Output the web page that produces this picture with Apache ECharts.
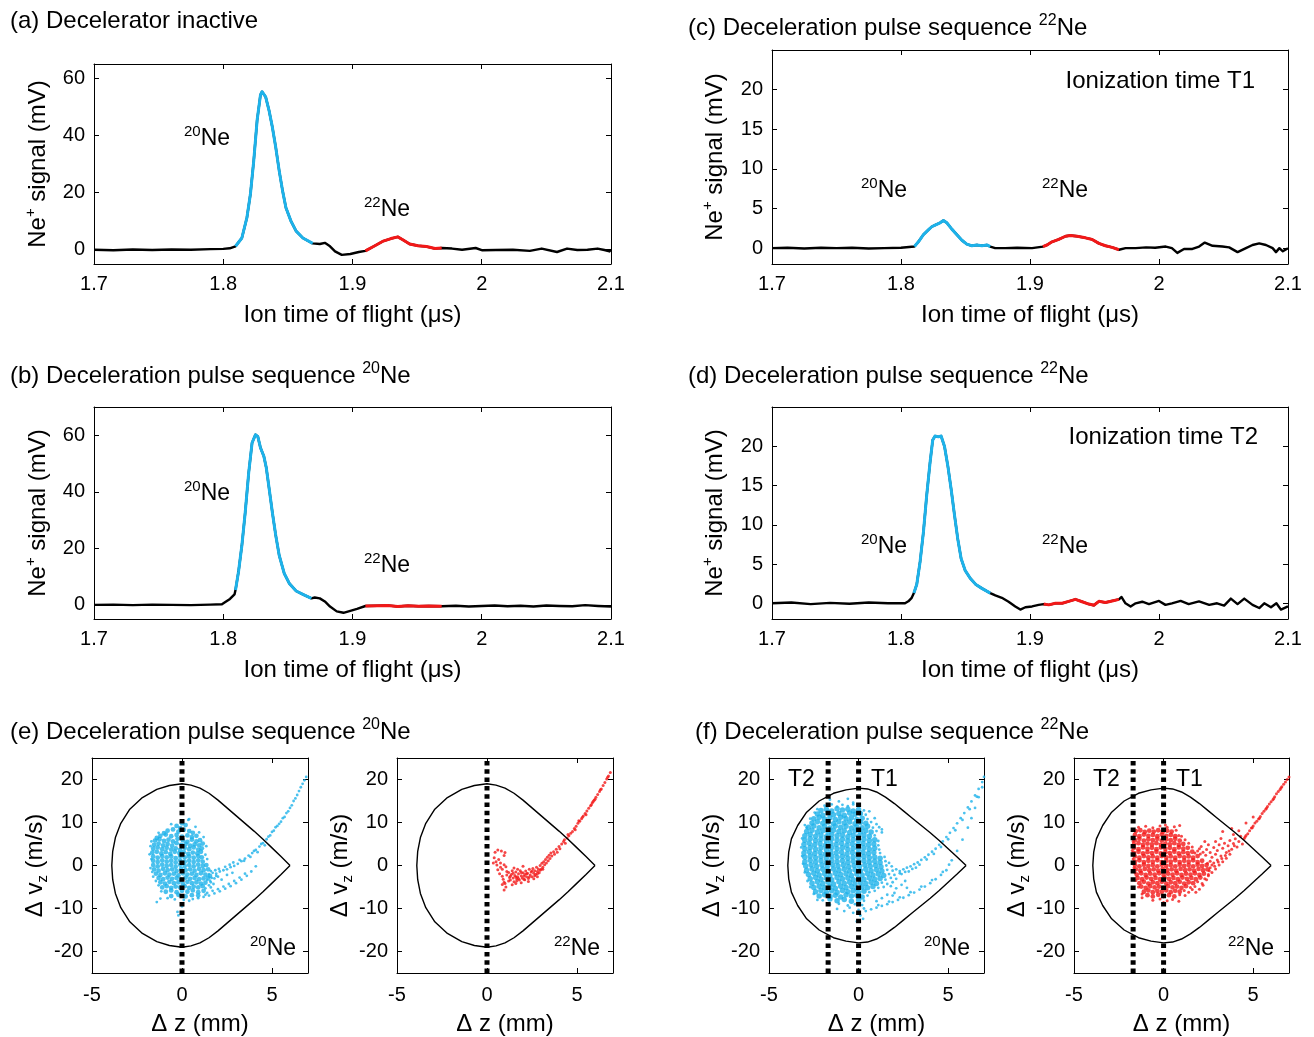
<!DOCTYPE html>
<html>
<head>
<meta charset="utf-8">
<script src="https://cdn.jsdelivr.net/npm/echarts@6/dist/echarts.min.js"></script>
<style>
  html, body { margin: 0; padding: 0; background: #fff; }
  #chart { width: 1314px; height: 1037px; }
</style>
</head>
<body>
<div id="chart"></div>
<script>
// ---------- colours & fonts ----------
const FONT = '"Liberation Sans", Arial, Helvetica, sans-serif';
const CYAN = '#1db2ea';
const RED = '#f21818';

// ---------- time-of-flight traces: [time (μs), Ne+ signal (mV)] ----------
const traceA = [[1.700,0.0],[1.715,-0.2],[1.730,0.1],[1.745,-0.1],[1.760,0.1],[1.775,0.0],[1.790,0.2],[1.800,0.3],[1.805,0.5],[1.8095,1.2],[1.8144,4.1],[1.8183,11.2],[1.8210,19.4],[1.8236,31.2],[1.8262,45.3],[1.8288,54.2],[1.8300,55.3],[1.8314,54.9],[1.8328,53.5],[1.8354,48.8],[1.8380,42.9],[1.8406,35.9],[1.8433,27.6],[1.8459,20.6],[1.8485,14.7],[1.8524,10.0],[1.8564,6.5],[1.8616,4.1],[1.8692,2.2],[1.8747,2.0],[1.8786,2.4],[1.8826,1.2],[1.8865,-0.6],[1.8917,-1.8],[1.8983,-1.5],[1.9049,-0.8],[1.9100,-0.4],[1.9166,1.2],[1.9232,2.9],[1.9298,3.9],[1.9350,4.5],[1.9389,3.5],[1.9442,2.0],[1.9507,1.4],[1.9573,1.1],[1.9638,0.4],[1.9690,0.6],[1.9770,0.4],[1.9848,0.0],[1.9953,0.6],[2.0005,-0.2],[2.0110,-0.1],[2.0241,0.0],[2.0372,-0.4],[2.0464,0.4],[2.0582,-0.8],[2.0660,0.4],[2.0739,-0.1],[2.0818,0.0],[2.0896,0.4],[2.0949,-0.1],[2.0988,-0.6],[2.1000,0.0]];

const traceB = [[1.700,0.0],[1.715,0.1],[1.730,-0.1],[1.745,0.1],[1.760,0.0],[1.775,-0.1],[1.790,0.1],[1.799,0.2],[1.8013,0.9],[1.8052,2.1],[1.8087,3.7],[1.8095,5.3],[1.8118,11.7],[1.8144,21.0],[1.8170,32.7],[1.8197,46.8],[1.8223,57.3],[1.8249,60.2],[1.8267,59.6],[1.8288,55.6],[1.8314,52.6],[1.8333,48.5],[1.8354,41.5],[1.8380,32.7],[1.8406,24.6],[1.8433,17.5],[1.8472,11.1],[1.8511,7.6],[1.8564,4.9],[1.8616,3.7],[1.8682,2.3],[1.8708,2.6],[1.8747,2.3],[1.8786,1.2],[1.8826,-0.6],[1.8878,-2.3],[1.8930,-2.8],[1.8983,-2.1],[1.9035,-1.4],[1.9100,-0.4],[1.9193,-0.3],[1.9270,-0.2],[1.9350,-0.6],[1.9430,-0.3],[1.9510,-0.5],[1.9590,-0.4],[1.9690,-0.5],[1.9800,-0.3],[1.9900,-0.6],[2.0000,-0.4],[2.0100,-0.2],[2.0200,-0.5],[2.0300,-0.3],[2.0400,-0.6],[2.0500,-0.2],[2.0600,-0.4],[2.0700,-0.5],[2.0800,-0.1],[2.0900,-0.4],[2.1000,-0.6]];

const traceC = [[1.700,0.00],[1.712,0.05],[1.725,-0.05],[1.738,0.05],[1.750,0.00],[1.762,0.05],[1.775,-0.05],[1.787,0.00],[1.800,0.05],[1.8104,0.2],[1.8135,0.8],[1.8174,1.7],[1.8212,2.3],[1.8238,2.7],[1.8264,2.9],[1.8303,3.2],[1.8329,3.5],[1.8355,3.2],[1.8394,2.4],[1.8433,1.7],[1.8472,1.0],[1.8510,0.5],[1.8549,0.3],[1.8588,0.4],[1.8627,0.3],[1.8666,0.4],[1.8692,0.2],[1.8730,0.0],[1.8808,0.0],[1.8900,0.05],[1.9016,0.0],[1.9100,0.2],[1.9132,0.4],[1.9171,0.8],[1.9223,1.1],[1.9275,1.5],[1.9313,1.6],[1.9365,1.5],[1.9430,1.3],[1.9482,1.1],[1.9534,0.6],[1.9585,0.3],[1.9637,0.1],[1.9689,-0.2],[1.9741,0.0],[1.9819,0.0],[1.9900,0.1],[1.9970,0.05],[2.0052,0.2],[2.0100,0.0],[2.0142,-0.6],[2.0194,-0.1],[2.0259,-0.1],[2.0311,0.2],[2.0355,0.7],[2.0415,0.3],[2.0492,0.2],[2.0544,0.1],[2.0609,-0.5],[2.0674,0.0],[2.0725,0.4],[2.0777,0.6],[2.0829,0.4],[2.0881,0.0],[2.0907,-0.5],[2.0933,0.0],[2.0960,-0.4],[2.1000,0.0]];

const traceD = [[1.700,0.0],[1.715,0.1],[1.730,-0.1],[1.745,0.05],[1.760,-0.05],[1.775,0.1],[1.790,0.0],[1.8031,0.0],[1.8057,0.25],[1.8083,0.7],[1.8100,1.3],[1.8122,2.4],[1.8148,5.3],[1.8174,9.1],[1.8199,13.7],[1.8225,17.9],[1.8246,20.8],[1.8264,21.3],[1.8290,21.2],[1.8311,21.3],[1.8337,20.0],[1.8363,17.5],[1.8389,14.5],[1.8415,11.2],[1.8440,8.2],[1.8466,5.7],[1.8497,4.2],[1.8536,3.2],[1.8580,2.4],[1.8627,1.9],[1.8692,1.3],[1.8731,1.0],[1.8782,0.7],[1.8834,0.2],[1.8886,-0.4],[1.8925,-0.8],[1.8964,-0.5],[1.9016,-0.4],[1.9067,-0.2],[1.9106,-0.1],[1.9145,-0.2],[1.9197,0.0],[1.9249,0.0],[1.9300,0.25],[1.9352,0.5],[1.9404,0.2],[1.9456,-0.1],[1.9495,-0.25],[1.9534,0.25],[1.9585,0.1],[1.9637,0.3],[1.9689,0.5],[1.9710,0.8],[1.9740,0.0],[1.9780,-0.4],[1.9819,0.0],[1.9870,0.2],[1.9922,-0.1],[2.0000,0.3],[2.0050,-0.2],[2.0100,0.0],[2.0168,0.3],[2.0230,-0.1],[2.0310,0.25],[2.0389,-0.2],[2.0450,0.0],[2.0505,-0.3],[2.0557,0.6],[2.0609,-0.1],[2.0661,0.6],[2.0725,-0.2],[2.0777,-0.6],[2.0816,0.0],[2.0868,-0.5],[2.0910,0.0],[2.0945,-0.8],[2.1000,-0.4]];

// arrival-time windows of the two isotopes (μs)
const WINDOW_20NE = [1.8095, 1.8695];
const WINDOW_22NE = [1.9100, 1.9690];

// ---------- tick values ----------
const tofTicks = [1.7, 1.8, 1.9, 2.0, 2.1];
const signalTicksAB = [0, 20, 40, 60];
const signalTicksCD = [0, 5, 10, 15, 20];
const zTicks = [-5, 0, 5];
const vzTicks = [-20, -10, 0, 10, 20];

// ---------- separatrices: [Δz (mm), Δvz (m/s)] ----------
const separatrixE = [[6,0],[5.5,2.1],[5,4.1],[4.5,6.1],[4,8.0],[3.5,9.8],[3,11.6],[2.5,13.4],[2,15.2],[1.5,16.8],[1,18.0],[0.5,18.7],[0,19.0],[-0.7,18.6],[-1.4,17.7],[-2.2,15.8],[-2.9,13.1],[-3.4,9.8],[-3.7,6.5],[-3.85,3.3],[-3.9,0],[-3.85,-3.3],[-3.7,-6.5],[-3.4,-9.8],[-2.9,-13.1],[-2.2,-15.8],[-1.4,-17.7],[-0.7,-18.6],[0,-19.0],[0.5,-18.7],[1,-18.0],[1.5,-16.8],[2,-15.2],[2.5,-13.4],[3,-11.6],[3.5,-9.8],[4,-8.0],[4.5,-6.1],[5,-4.1],[5.5,-2.1],[6,0]];
const separatrixF = [[6,0],[5.5,2.0],[5,3.9],[4.5,5.8],[4,7.6],[3.5,9.3],[3,11.0],[2.5,12.7],[2,14.4],[1.5,15.9],[1,17.1],[0.5,17.8],[0,18.0],[-0.7,17.6],[-1.4,16.8],[-2.2,15.0],[-2.9,12.4],[-3.4,9.3],[-3.75,6.2],[-3.9,3.1],[-3.95,0],[-3.9,-3.1],[-3.75,-6.2],[-3.4,-9.3],[-2.9,-12.4],[-2.2,-15.0],[-1.4,-16.8],[-0.7,-17.6],[0,-18.0],[0.5,-17.8],[1,-17.1],[1.5,-15.9],[2,-14.4],[2.5,-12.7],[3,-11.0],[3.5,-9.3],[4,-7.6],[4.5,-5.8],[5,-3.9],[5.5,-2.0],[6,0]];

// ionization positions (Δz, mm)
const T1_Z = 0;
const T2_Z = -1.7;

// ---------- phase-space clouds, flat lists of Δz, Δvz ----------
// dense bunch cores
const coreE20 = [
-0.3,9.2,0.0,9.8,0.2,9.4,-0.1,8.7,
-0.8,8.1,-0.5,8.4,-0.2,7.9,0.1,8.3,0.4,8.0,0.6,7.6,-1.0,7.5,
-1.2,6.9,-0.9,7.2,-0.6,6.8,-0.3,7.1,0.0,6.7,0.3,7.0,0.55,6.6,0.8,6.9,-1.4,6.4,
-1.5,5.8,-1.25,6.1,-1.0,5.7,-0.75,6.0,-0.5,5.6,-0.25,6.2,0.05,5.9,0.3,5.5,0.55,6.0,0.8,5.6,1.0,5.9,
-1.55,4.8,-1.3,5.1,-1.05,4.7,-0.8,5.0,-0.55,4.6,-0.3,5.2,-0.05,4.8,0.2,5.0,0.45,4.6,0.7,4.9,0.95,4.7,1.15,5.1,
-1.6,3.9,-1.35,4.2,-1.1,3.8,-0.85,4.1,-0.6,3.7,-0.35,4.0,-0.1,3.6,0.15,4.1,0.4,3.8,0.65,4.2,0.9,3.7,1.1,4.0,
-1.65,3.0,-1.4,3.2,-1.15,2.8,-0.9,3.1,-0.65,2.7,-0.4,3.2,-0.15,2.9,0.1,3.1,0.35,2.7,0.6,3.0,0.85,2.8,1.05,3.2,
-1.6,2.1,-1.35,1.8,-1.1,2.2,-0.85,1.9,-0.6,2.1,-0.35,1.7,-0.1,2.2,0.15,1.9,0.4,2.1,0.65,1.8,0.9,2.2,1.1,1.9,
-1.6,1.1,-1.35,0.8,-1.1,1.2,-0.85,0.9,-0.6,1.1,-0.35,0.7,-0.1,1.2,0.15,0.9,0.4,1.1,0.65,0.8,0.9,1.2,1.15,0.9,
-1.6,0.1,-1.35,-0.2,-1.1,0.2,-0.85,-0.1,-0.6,0.1,-0.35,-0.3,-0.1,0.2,0.15,-0.1,0.4,0.1,0.65,-0.2,0.9,0.2,1.15,-0.1,1.35,0.1,
-1.55,-0.9,-1.3,-1.2,-1.05,-0.8,-0.8,-1.1,-0.55,-0.9,-0.3,-1.3,-0.05,-0.8,0.2,-1.1,0.45,-0.9,0.7,-1.2,0.95,-0.8,1.2,-1.1,1.45,-0.9,
-1.45,-1.9,-1.2,-2.2,-0.95,-1.8,-0.7,-2.1,-0.45,-1.9,-0.2,-2.3,0.05,-1.8,0.3,-2.1,0.55,-1.9,0.8,-2.2,1.05,-1.8,1.3,-2.1,1.55,-2.4,
-1.3,-2.9,-1.05,-3.2,-0.8,-2.8,-0.55,-3.1,-0.3,-2.9,-0.05,-3.3,0.2,-2.8,0.45,-3.1,0.7,-2.9,0.95,-3.2,1.2,-3.0,1.45,-2.8,
-1.2,-3.9,-0.95,-4.2,-0.7,-3.8,-0.45,-4.1,-0.2,-3.9,0.05,-4.3,0.3,-3.8,0.55,-4.1,0.8,-3.9,1.05,-4.2,1.3,-4.0,
-1.1,-5.1,-0.85,-4.8,-0.6,-5.2,-0.35,-4.9,-0.1,-5.1,0.15,-4.8,0.4,-5.2,0.65,-4.9,0.9,-5.1,1.15,-4.8,
-0.9,-6.1,-0.6,-5.8,-0.3,-6.2,0.0,-5.9,0.3,-6.1,0.6,-5.8,0.9,-6.2,1.2,-5.9,
-0.6,-7.1,-0.2,-6.8,0.2,-7.2,0.55,-6.9,0.9,-7.0
];
// sparse halo and tails
const haloE20 = [
0.35,10.6,-1.7,5.6,1.3,-6.8,
-1.4,-8.5,-1.2,-7.7,-0.2,-11.6,-0.25,-10.8,0.0,-9.5,0.4,-8.2,0.4,10.8,-0.6,9.6,-1.3,7.6,-1.75,4.5,-1.7,1.5,-1.65,-1.5,
-1.8,2.6,-1.75,-0.6,-1.6,-2.6,-1.45,-3.6,-1.3,-4.6,-1.15,-6.0,-0.8,-7.6,-0.4,-7.9,0.1,-8.0,0.75,9.0,0.95,7.7,1.2,6.6,1.35,4.5,1.3,2.5,1.4,1.5,
1.5,-2.0,1.7,-1.7,1.9,-1.9,2.1,-1.4,2.3,-1.1,2.5,-0.9,2.7,-0.4,2.9,-0.1,3.1,0.4,3.3,1.0,3.5,1.6,3.7,2.3,3.9,2.9,4.1,3.6,4.3,4.4,4.5,5.2,4.7,6.1,4.9,7.0,5.1,8.1,5.3,9.2,5.5,10.2,5.7,11.3,5.9,12.6,6.1,14.0,6.3,15.6,6.5,17.3,6.7,19.0,6.9,20.6,
1.6,-1.3,1.85,-1.1,2.05,-0.8,2.4,-0.3,2.65,0.2,2.85,0.7,3.2,1.3,3.45,1.1,3.8,2.0,4.2,3.1,4.6,4.7,5.0,7.8,5.4,9.7,5.8,12.2,6.2,15.0,6.6,18.2,4.0,3.4,4.4,5.0,4.8,6.7,5.2,8.9,5.6,11.0,6.0,13.4,6.4,16.4,6.8,19.8,
0.6,-7.8,0.9,-7.6,1.2,-7.3,1.5,-7.0,1.8,-6.5,2.1,-6.0,2.4,-5.4,2.7,-4.8,3.0,-4.1,3.3,-3.3,3.6,-2.4,3.85,-1.4,4.1,-0.2,1.4,-6.4,1.7,-5.9,2.0,-5.5,2.3,-4.9,2.6,-4.3,2.9,-3.6,3.2,-2.8,3.5,-1.9,
1.4,-3.4,1.6,-3.9,1.8,-3.0,2.0,-2.6,2.2,-3.3,1.5,-4.6,1.75,-4.3,2.5,-2.2,2.8,-1.7,1.3,-5.3,1.6,-5.1,1.65,-2.9,1.9,-2.4,1.55,-3.5
];

const cloudE22 = [
0.45,3.1,0.6,3.6,0.8,3.4,1.0,3.0,0.95,2.3,0.4,1.8,0.5,0.9,0.35,0.6,0.65,1.4,0.55,0.1,0.75,-0.4,0.6,-1.0,0.85,-0.9,0.7,-1.9,0.85,-2.5,0.9,-3.2,0.95,-3.9,0.85,-4.4,0.95,-5.7,1.05,-5.0,1.0,-4.2,0.75,0.6,0.95,0.2,1.05,-0.3,1.1,-1.4,
1.1,-2.2,1.2,-1.6,1.25,-2.8,1.3,-3.4,1.35,-2.1,1.4,-1.2,1.45,-2.9,1.5,-3.8,1.55,-2.3,1.6,-1.5,1.65,-3.1,1.7,-2.6,1.75,-1.9,1.8,-3.4,1.85,-1.2,1.9,-2.4,1.95,-2.9,2.0,-1.7,2.05,-3.2,2.1,-2.1,2.15,-1.3,2.2,-2.6,2.25,-1.8,2.3,-3.0,2.35,-0.9,2.4,-2.2,2.45,-1.5,2.5,-2.6,2.55,-0.7,2.6,-1.8,2.65,-1.2,2.7,-2.1,2.75,-0.4,2.8,-1.4,2.85,-0.8,2.9,-1.7,2.95,0.0,3.0,-0.9,3.05,0.5,3.1,-0.4,3.15,0.9,3.2,0.2,3.25,1.4,3.3,0.6,3.35,1.9,3.4,1.1,3.45,2.4,3.5,1.6,3.55,2.9,3.6,2.2,3.7,3.2,3.75,2.6,3.85,3.8,3.9,3.1,4.0,4.4,4.05,3.9,1.5,-0.6,1.7,-0.9,2.0,-0.2,1.9,-4.0,2.3,-3.7,1.4,-4.5,1.6,-4.2,2.6,-3.1,2.8,-2.6,
1.3,-2.5,1.45,-1.8,1.6,-2.7,1.75,-3.0,1.9,-1.6,2.05,-2.5,2.2,-1.9,2.35,-2.7,2.5,-1.3,2.65,-2.4,2.8,-1.9,2.95,-1.1,3.1,-0.9,1.2,-3.6,1.65,-3.6,2.1,-3.3,
4.15,5.0,4.25,5.6,4.35,5.2,4.45,6.4,4.55,6.9,4.65,7.5,4.75,7.9,4.85,8.6,4.95,9.1,5.05,9.8,5.15,10.3,5.25,10.9,5.35,11.5,5.45,12.1,5.55,12.7,5.65,13.3,5.75,13.9,5.85,14.6,5.95,15.2,6.05,15.9,6.15,16.5,6.25,17.2,6.35,17.8,6.45,18.6,6.55,19.3,6.65,20.1,6.75,20.8,6.85,21.6,4.5,7.2,4.9,8.3,5.1,10.4,5.5,11.8,5.9,14.9,6.3,17.6,6.7,20.5,4.3,6.0,5.3,11.2,5.8,14.1,6.0,15.4
];

const coreF20 = [
-2.1,12.8,-1.8,13.1,-1.5,12.7,-1.2,13.2,-0.9,12.9,-0.6,13.1,-0.3,12.7,0.0,13.0,
-2.3,12.0,-2.0,11.7,-1.7,12.2,-1.4,11.8,-1.1,12.1,-0.8,11.7,-0.5,12.2,-0.2,11.9,0.1,12.1,
-2.5,10.9,-2.2,11.2,-1.9,10.8,-1.6,11.1,-1.3,10.7,-1.0,11.2,-0.7,10.9,-0.4,11.1,-0.1,10.7,0.2,11.0,
-2.6,9.9,-2.3,10.2,-2.0,9.8,-1.7,10.1,-1.4,9.7,-1.1,10.2,-0.8,9.9,-0.5,10.1,-0.2,9.7,0.1,10.0,0.4,9.8,
-2.8,8.9,-2.5,9.2,-2.2,8.8,-1.9,9.1,-1.6,8.7,-1.3,9.2,-1.0,8.9,-0.7,9.1,-0.4,8.7,-0.1,9.0,0.2,8.8,0.5,9.1,
-2.9,7.9,-2.6,8.2,-2.3,7.8,-2.0,8.1,-1.7,7.7,-1.4,8.2,-1.1,7.9,-0.8,8.1,-0.5,7.7,-0.2,8.0,0.1,7.8,0.4,8.1,0.7,7.8,
-3.0,6.9,-2.7,7.2,-2.4,6.8,-2.1,7.1,-1.8,6.7,-1.5,7.2,-1.2,6.9,-0.9,7.1,-0.6,6.7,-0.3,7.0,0.0,6.8,0.3,7.1,0.6,6.8,
-3.0,5.9,-2.7,6.2,-2.4,5.8,-2.1,6.1,-1.8,5.7,-1.5,6.2,-1.2,5.9,-0.9,6.1,-0.6,5.7,-0.3,6.0,0.0,5.8,0.3,6.1,0.6,5.8,0.9,6.0,
-3.05,4.9,-2.75,5.2,-2.45,4.8,-2.15,5.1,-1.85,4.7,-1.55,5.2,-1.25,4.9,-0.95,5.1,-0.65,4.7,-0.35,5.0,-0.05,4.8,0.25,5.1,0.55,4.8,0.85,5.0,
-3.0,3.9,-2.7,4.2,-2.4,3.8,-2.1,4.1,-1.8,3.7,-1.5,4.2,-1.2,3.9,-0.9,4.1,-0.6,3.7,-0.3,4.0,0.0,3.8,0.3,4.1,0.6,3.8,0.9,4.0,
-3.05,2.9,-2.75,3.2,-2.45,2.8,-2.15,3.1,-1.85,2.7,-1.55,3.2,-1.25,2.9,-0.95,3.1,-0.65,2.7,-0.35,3.0,-0.05,2.8,0.25,3.1,0.55,2.8,0.85,3.0,
-3.0,1.9,-2.7,2.2,-2.4,1.8,-2.1,2.1,-1.8,1.7,-1.5,2.2,-1.2,1.9,-0.9,2.1,-0.6,1.7,-0.3,2.0,0.0,1.8,0.3,2.1,0.6,1.8,0.9,2.0,1.2,1.7,
-3.0,0.9,-2.7,1.2,-2.4,0.8,-2.1,1.1,-1.8,0.7,-1.5,1.2,-1.2,0.9,-0.9,1.1,-0.6,0.7,-0.3,1.0,0.0,0.8,0.3,1.1,0.6,0.8,0.9,1.0,1.2,0.7,
-2.95,-0.1,-2.65,0.2,-2.35,-0.2,-2.05,0.1,-1.75,-0.3,-1.45,0.2,-1.15,-0.1,-0.85,0.1,-0.55,-0.3,-0.25,0.0,0.05,-0.2,0.35,0.1,0.65,-0.2,0.95,0.0,1.25,-0.3,
-2.9,-1.1,-2.6,-0.8,-2.3,-1.2,-2.0,-0.9,-1.7,-1.3,-1.4,-0.8,-1.1,-1.1,-0.8,-0.9,-0.5,-1.3,-0.2,-1.0,0.1,-1.2,0.4,-0.9,0.7,-1.2,1.0,-1.0,1.3,-1.3,
-2.8,-2.1,-2.5,-1.8,-2.2,-2.2,-1.9,-1.9,-1.6,-2.3,-1.3,-1.8,-1.0,-2.1,-0.7,-1.9,-0.4,-2.3,-0.1,-2.0,0.2,-2.2,0.5,-1.9,0.8,-2.2,1.1,-2.0,1.4,-2.3,
-2.7,-3.1,-2.4,-2.8,-2.1,-3.2,-1.8,-2.9,-1.5,-3.3,-1.2,-2.8,-0.9,-3.1,-0.6,-2.9,-0.3,-3.3,0.0,-3.0,0.3,-3.2,0.6,-2.9,0.9,-3.2,1.2,-3.0,
-2.6,-4.1,-2.3,-3.8,-2.0,-4.2,-1.7,-3.9,-1.4,-4.3,-1.1,-3.8,-0.8,-4.1,-0.5,-3.9,-0.2,-4.3,0.1,-4.0,0.4,-4.2,0.7,-3.9,1.0,-4.2,
-2.5,-5.1,-2.2,-4.8,-1.9,-5.2,-1.6,-4.9,-1.3,-5.3,-1.0,-4.8,-0.7,-5.1,-0.4,-4.9,-0.1,-5.3,0.2,-5.0,0.5,-5.2,0.8,-4.9,
-2.4,-6.1,-2.1,-5.8,-1.8,-6.2,-1.5,-5.9,-1.2,-6.3,-0.9,-5.8,-0.6,-6.1,-0.3,-5.9,0.0,-6.3,0.3,-6.0,
-2.2,-7.1,-1.9,-6.8,-1.6,-7.2,-1.3,-6.9,-1.0,-7.3,-0.7,-6.8,-0.4,-7.1,-0.1,-6.9,0.2,-7.3,
-1.6,-7.8,-1.2,-8.2,-0.8,-7.9,-0.4,-8.3,0.0,-8.0
];
const haloF20 = [
-1.6,15.3,-1.1,14.9,-0.6,15.5,-0.3,14.6,
-1.9,13.9,-1.5,14.2,-1.2,13.7,-0.9,14.1,-0.6,13.8,-0.3,14.2,0.0,13.9,0.3,12.8,0.4,11.8,0.5,10.8,0.7,10.1,0.8,8.8,1.15,8.9,1.0,8.0,1.3,7.7,0.9,7.0,1.1,5.7,1.1,4.7,1.15,3.7,1.2,2.9,1.45,2.0,1.5,1.0,1.7,0.6,1.55,0.0,1.85,-0.2,1.6,-1.0,1.9,-1.2,2.1,-0.9,1.7,-2.0,2.0,-2.2,2.3,-1.8,1.5,-3.3,1.8,-2.9,2.1,-3.1,1.3,-4.0,1.6,-4.3,1.9,-3.9,1.1,-5.2,1.4,-5.0,0.6,-6.2,0.9,-5.9,0.5,-7.0,
-2.0,-8.1,0.3,-8.2,
-1.6,-9.1,-1.1,-8.9,-0.6,-9.3,-0.2,-9.0,0.2,-9.2,
-1.2,-10.1,-0.5,-9.8,0.0,-10.3,0.3,-10.0,
-0.3,-11.0,0.1,-11.6,-0.8,-10.6,0.25,-12.4,-0.1,-13.0,1.3,8.4,-3.2,4.2,-3.15,2.2,-2.9,8.8,-2.3,13.1,0.6,12.6,0.9,11.0,1.0,9.6,
-3.15,6.3,-3.1,0.4,-3.0,-1.6,-2.85,-3.6,-2.7,-5.0,-2.5,-6.6,-2.3,-8.0,-3.0,9.4,-2.7,10.9,-2.45,12.3,
2.3,-1.3,2.5,-0.9,2.7,-0.5,2.9,-0.2,3.1,0.3,3.3,0.7,3.5,1.3,3.7,1.9,3.9,2.5,4.1,3.2,4.3,3.9,4.5,4.8,4.7,5.6,4.9,6.6,5.1,7.6,5.3,8.7,5.5,9.8,5.7,11.0,5.9,12.2,6.1,13.5,6.3,14.9,6.5,16.3,6.7,17.8,6.9,19.4,7.0,20.6,
2.6,-1.5,3.0,-0.8,3.4,0.2,3.8,1.4,4.2,2.7,4.6,4.3,5.0,6.1,5.4,8.2,5.8,10.6,6.2,13.1,6.6,16.0,2.4,-2.0,2.8,-1.4,3.2,-0.5,
0.4,-10.6,0.7,-10.2,1.0,-9.8,1.3,-9.4,1.6,-9.0,1.9,-8.5,2.2,-8.0,2.5,-7.5,2.8,-6.9,3.1,-6.3,3.4,-5.6,3.7,-4.9,4.0,-4.1,4.3,-3.2,4.6,-2.2,4.9,-1.1,5.2,1.2,5.5,3.4,5.8,6.0,6.1,8.8,6.3,11.0,6.5,13.4,6.7,15.9,6.9,18.2,1.1,-9.2,1.7,-8.4,2.3,-7.4,2.9,-6.2,3.5,-4.9,4.1,-3.4,4.7,-1.5,5.05,0.2,
1.8,-4.8,2.1,-5.3,2.4,-4.5,2.0,-6.4,1.6,-6.8,1.3,-7.6,1.0,-8.3,2.6,-3.6,2.7,-5.2,1.9,-7.0
];

const coreF22 = [
-1.55,8.0,-1.3,8.2,-1.05,7.8,-0.8,8.1,-0.55,7.9,-0.3,8.2,-0.05,7.8,0.2,8.1,0.45,7.9,
-1.6,7.1,-1.35,6.8,-1.1,7.2,-0.85,6.9,-0.6,7.1,-0.35,6.8,-0.1,7.2,0.15,6.9,0.4,7.1,0.65,6.8,
-1.6,5.9,-1.35,6.2,-1.1,5.8,-0.85,6.1,-0.6,5.9,-0.35,6.2,-0.1,5.8,0.15,6.1,0.4,5.9,0.65,6.2,0.9,5.8,
-1.65,4.9,-1.4,5.2,-1.15,4.8,-0.9,5.1,-0.65,4.9,-0.4,5.2,-0.15,4.8,0.1,5.1,0.35,4.9,0.6,5.2,0.85,4.8,1.1,5.0,
-1.65,4.1,-1.4,3.8,-1.15,4.2,-0.9,3.9,-0.65,4.1,-0.4,3.8,-0.15,4.2,0.1,3.9,0.35,4.1,0.6,3.8,0.85,4.2,1.1,3.9,1.35,4.1,
-1.65,2.9,-1.4,3.2,-1.15,2.8,-0.9,3.1,-0.65,2.9,-0.4,3.2,-0.15,2.8,0.1,3.1,0.35,2.9,0.6,3.2,0.85,2.8,1.1,3.1,1.35,2.9,1.6,3.2,
-1.6,2.1,-1.35,1.8,-1.1,2.2,-0.85,1.9,-0.6,2.1,-0.35,1.8,-0.1,2.2,0.15,1.9,0.4,2.1,0.65,1.8,0.9,2.2,1.15,1.9,1.4,2.1,1.65,1.8,1.9,2.2,
-1.6,0.9,-1.35,1.2,-1.1,0.8,-0.85,1.1,-0.6,0.9,-0.35,1.2,-0.1,0.8,0.15,1.1,0.4,0.9,0.65,1.2,0.9,0.8,1.15,1.1,1.4,0.9,1.65,1.2,1.9,0.8,2.15,1.1,
-1.6,0.1,-1.35,-0.2,-1.1,0.2,-0.85,-0.1,-0.6,0.1,-0.35,-0.2,-0.1,0.2,0.15,-0.1,0.4,0.1,0.65,-0.2,0.9,0.2,1.15,-0.1,1.4,0.1,1.65,-0.2,1.9,0.2,2.15,-0.1,2.4,0.1,
-1.55,-0.9,-1.3,-1.2,-1.05,-0.8,-0.8,-1.1,-0.55,-0.9,-0.3,-1.2,-0.05,-0.8,0.2,-1.1,0.45,-0.9,0.7,-1.2,0.95,-0.8,1.2,-1.1,1.45,-0.9,1.7,-1.2,1.95,-0.8,2.2,-1.1,2.45,-0.9,
-1.5,-2.1,-1.25,-1.8,-1.0,-2.2,-0.75,-1.9,-0.5,-2.1,-0.25,-1.8,0.0,-2.2,0.25,-1.9,0.5,-2.1,0.75,-1.8,1.0,-2.2,1.25,-1.9,1.5,-2.1,1.75,-1.8,2.0,-2.2,2.25,-1.9,
-1.45,-2.9,-1.2,-3.2,-0.95,-2.8,-0.7,-3.1,-0.45,-2.9,-0.2,-3.2,0.05,-2.8,0.3,-3.1,0.55,-2.9,0.8,-3.2,1.05,-2.8,1.3,-3.1,1.55,-2.9,1.8,-3.2,2.05,-2.8,
-1.35,-4.1,-1.1,-3.8,-0.85,-4.2,-0.6,-3.9,-0.35,-4.1,-0.1,-3.8,0.15,-4.2,0.4,-3.9,0.65,-4.1,0.9,-3.8,1.15,-4.2,1.4,-3.9,1.65,-4.1,
-1.25,-4.9,-1.0,-5.2,-0.75,-4.8,-0.5,-5.1,-0.25,-4.9,0.0,-5.2,0.25,-4.8,0.5,-5.1,0.75,-4.9,1.0,-5.2,1.25,-4.8,
-1.1,-6.1,-0.85,-5.8,-0.6,-6.2,-0.35,-5.9,-0.1,-6.1,0.15,-5.8,0.4,-6.2,0.65,-5.9,0.9,-6.1,
-0.9,-6.9,-0.6,-7.2,-0.3,-6.8,0.0,-7.1,0.3,-6.9,0.6,-7.2
];
const haloF22 = [
-1.4,8.9,-1.0,9.1,-0.6,8.8,-0.2,9.2,0.2,8.9,0.6,9.0,0.1,9.4,0.7,8.2,0.85,7.0,
-1.7,5.6,-1.75,3.5,0.9,9.3,-1.2,-7.5,1.2,-7.0,0.0,-8.6,-1.7,1.5,-1.65,-0.5,-1.6,-1.6,-1.55,-3.5,-1.4,-5.0,-1.2,-6.6,
2.5,-2.1,2.3,-3.1,2.15,-4.2,1.9,-3.8,1.75,-4.9,1.5,-5.1,1.4,-6.2,1.15,-5.8,0.9,-6.8,-0.6,-8.1,-0.2,-7.8,0.2,-8.2,0.5,-7.9,0.85,-8.3,
2.6,3.0,2.8,4.2,3.0,3.5,2.7,1.9,2.9,2.6,3.1,4.8,3.3,4.0,3.2,2.2,3.4,5.2,3.6,4.6,3.5,3.0,3.7,5.8,3.9,5.1,3.8,3.8,4.0,6.2,4.2,5.6,4.1,4.3,4.3,6.8,4.5,6.3,4.4,5.0,
2.5,-2.4,2.7,-1.6,2.9,-0.8,3.1,0.1,3.3,0.9,3.5,1.7,3.7,2.6,2.6,-0.5,2.8,0.6,3.0,1.3,2.4,-3.3,2.2,-4.6,2.0,-5.5,1.8,-6.2,1.6,-5.6,
2.35,2.4,2.6,1.0,2.2,3.1,1.9,3.4,2.1,4.4,1.6,4.3,1.4,5.2,1.2,6.0,1.0,6.8,3.2,6.3,2.9,5.6,2.5,4.8,2.3,5.6,
2.45,0.5,2.7,0.1,2.55,-1.2,2.85,-0.2,3.05,0.8,3.25,1.6,3.45,2.3,3.65,3.4,3.95,4.6,2.05,2.7,1.75,2.9,2.0,3.9,2.4,3.7,
4.6,7.0,4.8,8.1,5.0,9.2,5.2,10.3,5.4,11.4,5.6,12.6,5.8,13.7,6.0,14.8,6.2,16.0,6.4,17.2,6.6,18.3,6.8,19.4,7.0,20.6,
4.7,7.4,4.9,8.7,5.1,9.9,5.3,10.8,5.5,12.1,5.7,13.1,5.9,14.3,6.1,15.3,6.3,16.7,6.5,17.7,6.7,18.9,6.9,20.0,
4.55,6.6,4.95,8.8,5.35,11.0,5.75,13.4,6.15,15.6,6.55,18.0,
3.3,7.9,3.8,8.6,4.2,8.1,4.6,9.9,5.0,11.3,3.9,7.2
];

// ---------- panel rectangles (px) ----------
const panels = [
  { left: 94,   top: 64,  width: 517, height: 200 }, // (a)
  { left: 94,   top: 407, width: 517, height: 212 }, // (b)
  { left: 772,  top: 50,  width: 516, height: 214 }, // (c)
  { left: 772,  top: 407, width: 516, height: 212 }, // (d)
  { left: 92,   top: 758, width: 216, height: 215 }, // (e) 20Ne
  { left: 397,  top: 758, width: 216, height: 215 }, // (e) 22Ne
  { left: 769,  top: 758, width: 215, height: 215 }, // (f) 20Ne
  { left: 1074, top: 758, width: 215, height: 215 }  // (f) 22Ne
];

const toPairs = flat => {
  const out = [];
  for (let i = 0; i < flat.length; i += 2) out.push([flat[i], flat[i + 1]]);
  return out;
};

const TICK_FS = 20;
const NAME_FS = 24;
const supRich = {
  sup: { fontSize: 15, fontFamily: FONT, color: '#000', verticalAlign: 'top', lineHeight: 15 },
  sub: { fontSize: 15, fontFamily: FONT, color: '#000', verticalAlign: 'bottom', lineHeight: 15 }
};

const xAxes = [], yAxes = [];
function addAxes(gi, xr, xt, xName, xGap, xMargin, yr, yt, yName, yGap) {
  const line = { show: true, onZero: false, lineStyle: { color: '#000', width: 1 } };
  const tickX = { show: true, inside: true, length: 5, customValues: xt, lineStyle: { color: '#000', width: 1 } };
  const tickY = { show: true, inside: true, length: 5, customValues: yt, lineStyle: { color: '#000', width: 1 } };
  const lbl = { color: '#000', fontSize: TICK_FS, fontFamily: FONT };
  const nameStyle = { color: '#000', fontSize: NAME_FS, fontFamily: FONT, lineHeight: 30, rich: supRich };
  xAxes.push({
    gridIndex: gi, type: 'value', position: 'bottom', min: xr[0], max: xr[1],
    axisLine: line, axisTick: tickX, splitLine: { show: false },
    axisLabel: Object.assign({ customValues: xt, margin: xMargin, formatter: v => String(v) }, lbl),
    name: xName, nameLocation: 'middle', nameGap: xGap, nameTextStyle: nameStyle
  });
  xAxes.push({
    gridIndex: gi, type: 'value', position: 'top', min: xr[0], max: xr[1],
    axisLine: line, axisTick: tickX, splitLine: { show: false }, axisLabel: { show: false }
  });
  yAxes.push({
    gridIndex: gi, type: 'value', position: 'left', min: yr[0], max: yr[1],
    axisLine: line, axisTick: tickY, splitLine: { show: false },
    axisLabel: Object.assign({ customValues: yt, margin: 9, formatter: v => String(v) }, lbl),
    name: yName, nameLocation: 'middle', nameRotate: 90, nameGap: yGap, nameTextStyle: nameStyle
  });
  yAxes.push({
    gridIndex: gi, type: 'value', position: 'right', min: yr[0], max: yr[1],
    axisLine: line, axisTick: tickY, splitLine: { show: false }, axisLabel: { show: false }
  });
}

const TOF_NAME = 'Ion time of flight (\u03bcs)';
const SIG_NAME = 'Ne{sup|+} signal (mV)';
const Z_NAME = '\u0394 z (mm)';
const VZ_NAME = '\u0394 v{sub|z} (m/s)';

addAxes(0, [1.7, 2.1], tofTicks, TOF_NAME, 36, 10, [-5, 65], signalTicksAB, SIG_NAME, 41);
addAxes(1, [1.7, 2.1], tofTicks, TOF_NAME, 36, 10, [-5, 70], signalTicksAB, SIG_NAME, 41);
addAxes(2, [1.7, 2.1], tofTicks, TOF_NAME, 36, 10, [-2, 25], signalTicksCD, SIG_NAME, 42);
addAxes(3, [1.7, 2.1], tofTicks, TOF_NAME, 36, 10, [-2, 25], signalTicksCD, SIG_NAME, 42);
addAxes(4, [-5, 7], zTicks, Z_NAME, 36, 12, [-25, 25], vzTicks, VZ_NAME, 33);
addAxes(5, [-5, 7], zTicks, Z_NAME, 36, 12, [-25, 25], vzTicks, VZ_NAME, 40);
addAxes(6, [-5, 7], zTicks, Z_NAME, 36, 12, [-25, 25], vzTicks, VZ_NAME, 37);
addAxes(7, [-5, 7], zTicks, Z_NAME, 36, 12, [-25, 25], vzTicks, VZ_NAME, 37);

const series = [];
const inWin = (w) => (p) => p[0] >= w[0] && p[0] <= w[1];

function addTrace(gi, trace) {
  const common = { type: 'line', xAxisIndex: 2 * gi, yAxisIndex: 2 * gi, symbol: 'none', silent: true, animation: false };
  series.push(Object.assign({}, common, { data: trace, z: 2, lineStyle: { color: '#000', width: 2.4, join: 'round' } }));
  series.push(Object.assign({}, common, { data: trace.filter(inWin(WINDOW_20NE)), z: 3, lineStyle: { color: CYAN, width: 3, join: 'round' } }));
  series.push(Object.assign({}, common, { data: trace.filter(inWin(WINDOW_22NE)), z: 3, lineStyle: { color: RED, width: 3, join: 'round' } }));
}
addTrace(0, traceA);
addTrace(1, traceB);
addTrace(2, traceC);
addTrace(3, traceD);

function addPhase(gi, clouds, color, sep, cuts) {
  const ax = { xAxisIndex: 2 * gi, yAxisIndex: 2 * gi, silent: true, animation: false };
  clouds.forEach(c => {
    series.push(Object.assign({ type: 'scatter', data: toPairs(c.pts), symbol: 'circle', symbolSize: c.size,
      itemStyle: { color: color }, z: 2 }, ax));
  });
  series.push(Object.assign({ type: 'line', data: sep, symbol: 'none', z: 3,
    lineStyle: { color: '#000', width: 1.4 } }, ax));
  cuts.forEach(zc => {
    series.push(Object.assign({ type: 'line', data: [[zc, -25], [zc, 25]], symbol: 'none', z: 4,
      lineStyle: { color: '#000', width: 5, type: [4.5, 3.8], cap: 'butt' } }, ax));
  });
}
addPhase(4, [{ pts: coreE20, size: 4.8 }, { pts: haloE20, size: 2.8 }], CYAN, separatrixE, [T1_Z]);
addPhase(5, [{ pts: cloudE22, size: 3 }], RED, separatrixE, [T1_Z]);
addPhase(6, [{ pts: coreF20, size: 5.5 }, { pts: haloF20, size: 2.8 }], CYAN, separatrixF, [T2_Z, T1_Z]);
addPhase(7, [{ pts: coreF22, size: 4.8 }, { pts: haloF22, size: 3 }], RED, separatrixF, [T2_Z, T1_Z]);

// ---------- free text: panel titles and in-plot labels ----------
function text(x, y, str, size, align) {
  return {
    type: 'text', x: x, y: y, silent: true, z: 10,
    style: {
      text: str, fill: '#000', fontSize: size, fontFamily: FONT,
      align: align || 'left', verticalAlign: 'middle', lineHeight: 30,
      rich: {
        sup: { fontSize: Math.round(size * 0.66), fontFamily: FONT, fill: '#000', verticalAlign: 'top', lineHeight: 15 }
      }
    }
  };
}
const TS = 24;
const LS = 23;
const graphics = [
  text(10, 21, '(a) Decelerator inactive', TS),
  text(10, 376, '(b) Deceleration pulse sequence {sup|20}Ne', TS),
  text(688, 28, '(c) Deceleration pulse sequence {sup|22}Ne', TS),
  text(688, 376, '(d) Deceleration pulse sequence {sup|22}Ne', TS),
  text(10, 732, '(e) Deceleration pulse sequence {sup|20}Ne', TS),
  text(695, 732, '(f) Deceleration pulse sequence {sup|22}Ne', TS),

  text(184, 139, '{sup|20}Ne', LS),
  text(364, 210, '{sup|22}Ne', LS),
  text(184, 494, '{sup|20}Ne', LS),
  text(364, 566, '{sup|22}Ne', LS),
  text(861, 191, '{sup|20}Ne', LS),
  text(1042, 191, '{sup|22}Ne', LS),
  text(861, 547, '{sup|20}Ne', LS),
  text(1042, 547, '{sup|22}Ne', LS),
  text(1255, 81, 'Ionization time T1', TS, 'right'),
  text(1258, 437, 'Ionization time T2', TS, 'right'),

  text(250, 949, '{sup|20}Ne', LS),
  text(554, 949, '{sup|22}Ne', LS),
  text(924, 949, '{sup|20}Ne', LS),
  text(1228, 949, '{sup|22}Ne', LS),
  text(788, 780, 'T2', LS),
  text(871, 780, 'T1', LS),
  text(1093, 780, 'T2', LS),
  text(1176, 780, 'T1', LS)
];

const chart = echarts.init(document.getElementById('chart'), null, { renderer: 'canvas' });
chart.setOption({
  backgroundColor: '#fff',
  animation: false,
  grid: panels.map(p => Object.assign({ containLabel: false, outerBoundsMode: 'none' }, p)),
  xAxis: xAxes,
  yAxis: yAxes,
  series: series,
  graphic: graphics
});
</script>
</body>
</html>
